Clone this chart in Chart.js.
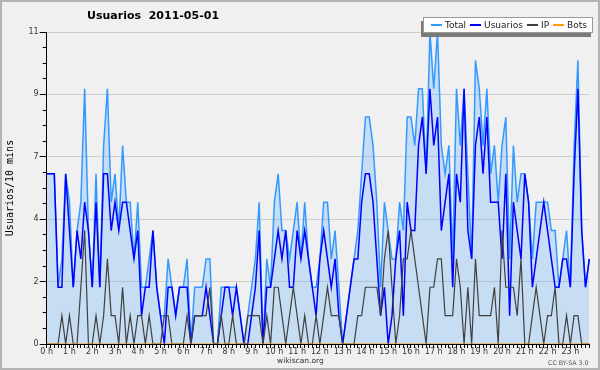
<!DOCTYPE html>
<html>
<head>
<meta charset="utf-8">
<script src="https://cdn.jsdelivr.net/npm/chart.js@4/dist/chart.umd.min.js"></script>
<style>
  body { margin: 0; background: #fff; }
  #wrap { position: relative; width: 600px; height: 370px; background: #f0f0f0; overflow: hidden;
          font-family: "DejaVu Sans", sans-serif; }
  #chart { position: absolute; left: 0; top: 0; }
  #frame { position: absolute; left: 0; top: 0; width: 600px; height: 370px; box-sizing: border-box;
           border: 2px solid #b4b4b4; pointer-events: none; }
  #title { position: absolute; left: 87px; top: 9px; font-size: 11px; font-weight: bold; line-height: 14px;
           white-space: pre; color: #000; }
  #legend { position: absolute; left: 423px; top: 17px; width: 170px; height: 16px; box-sizing: border-box;
            background: #fff; border: 1px solid #999; box-shadow: -2px 4px 0 #7a7a7a;
            display: flex; align-items: center; justify-content: flex-end; padding-right: 5px;
            font-size: 9px; color: #222; }
  #legend .item { display: flex; align-items: center; margin-left: 4px; }
  #legend .swatch { display: inline-block; width: 11px; height: 1.5px; margin-right: 3px; }
  #site { position: absolute; left: 277px; top: 356px; font-size: 7.5px; color: #333; }
  #lic { position: absolute; left: 548px; top: 359px; font-size: 6.3px; color: #555; }
</style>
</head>
<body>
<div id="wrap">
  <canvas id="chart" width="600" height="370"></canvas>
  <div id="title">Usuarios  2011-05-01</div>
  <div id="legend"></div>
  <div id="site">wikiscan.org</div>
  <div id="lic">CC BY-SA 3.0</div>
  <div id="frame"></div>
</div>
<script>
// 144 tramos de 10 minutos
const slots = [];
for (let h = 0; h < 24; h++) {
    for (let m = 0; m < 60; m += 10) slots.push(h + ':' + String(m).padStart(2, '0'));
}
const hourLabels = ['0 h', '1 h', '2 h', '3 h', '4 h', '5 h', '6 h', '7 h', '8 h', '9 h', '10 h', '11 h',
    '12 h', '13 h', '14 h', '15 h', '16 h', '17 h', '18 h', '19 h', '20 h', '21 h', '22 h', '23 h'];

const totalValues = [
    6, 6, 6, 2, 3, 6, 5, 2, 4, 5, 9, 4,
    2, 6, 2, 7, 9, 5, 6, 4, 7, 5, 5, 3,
    5, 2, 2, 3, 4, 2, 1, 1, 3, 2, 1, 2,
    2, 3, 0, 2, 2, 2, 3, 3, 0, 0, 2, 2,
    2, 2, 2, 1, 0, 1, 2, 3, 5, 0, 3, 2,
    5, 6, 4, 4, 3, 4, 5, 3, 5, 3, 2, 2,
    3, 5, 5, 3, 4, 2, 0, 1, 2, 3, 4, 6,
    8, 8, 7, 5, 2, 5, 4, 3, 3, 5, 4, 8,
    8, 7, 9, 9, 6, 11, 9, 11, 7, 6, 7, 3,
    9, 7, 9, 6, 3, 10, 9, 7, 9, 6, 7, 5,
    7, 8, 3, 7, 5, 6, 6, 5, 3, 5, 5, 5,
    5, 4, 4, 2, 3, 4, 2, 7, 10, 4, 2, 3
];
const userValues = [
    6, 6, 6, 2, 2, 6, 4, 2, 4, 3, 5, 4,
    2, 5, 2, 6, 6, 4, 5, 4, 5, 5, 4, 3,
    4, 1, 2, 2, 4, 2, 1, 0, 2, 2, 1, 2,
    2, 2, 0, 1, 1, 1, 2, 1, 0, 0, 1, 2,
    2, 1, 2, 1, 0, 0, 1, 2, 4, 0, 2, 2,
    3, 4, 3, 4, 2, 2, 4, 3, 4, 3, 2, 1,
    3, 4, 3, 2, 3, 1, 0, 1, 2, 3, 3, 5,
    6, 6, 5, 3, 1, 2, 0, 1, 3, 4, 1, 5,
    4, 4, 7, 8, 6, 9, 7, 8, 4, 5, 6, 2,
    6, 5, 9, 4, 3, 7, 8, 6, 8, 5, 5, 5,
    3, 6, 1, 5, 4, 3, 6, 5, 2, 3, 4, 5,
    4, 3, 2, 2, 3, 3, 2, 6, 9, 4, 2, 3
];
const ipValues = [
    0, 0, 0, 0, 1, 0, 1, 0, 0, 2, 4, 0,
    0, 1, 0, 1, 3, 1, 1, 0, 2, 0, 1, 0,
    1, 1, 0, 1, 0, 0, 0, 1, 1, 0, 0, 0,
    0, 1, 0, 1, 1, 1, 1, 2, 0, 0, 1, 0,
    0, 1, 0, 0, 0, 1, 1, 1, 1, 0, 1, 0,
    2, 2, 1, 0, 1, 2, 1, 0, 1, 0, 0, 1,
    0, 1, 2, 1, 1, 1, 0, 0, 0, 0, 1, 1,
    2, 2, 2, 2, 1, 3, 4, 2, 0, 1, 3, 3,
    4, 3, 2, 1, 0, 2, 2, 3, 3, 1, 1, 1,
    3, 2, 0, 2, 0, 3, 1, 1, 1, 1, 2, 0,
    4, 2, 2, 2, 1, 3, 0, 0, 1, 2, 1, 0,
    1, 1, 2, 0, 0, 1, 0, 1, 1, 0, 0, 0
];
const botValues = [
    0, 0, 0, 0, 0, 0, 0, 0, 0, 0, 0, 0,
    0, 0, 0, 0, 0, 0, 0, 0, 0, 0, 0, 0,
    0, 0, 0, 0, 0, 0, 0, 0, 0, 0, 0, 0,
    0, 0, 0, 0, 0, 0, 0, 0, 0, 0, 0, 0,
    0, 0, 0, 0, 0, 0, 0, 0, 0, 0, 0, 0,
    0, 0, 0, 0, 0, 0, 0, 0, 0, 0, 0, 0,
    0, 0, 0, 0, 0, 0, 0, 0, 0, 0, 0, 0,
    0, 0, 0, 0, 0, 0, 0, 0, 0, 0, 0, 0,
    0, 0, 0, 0, 0, 0, 0, 0, 0, 0, 0, 0,
    0, 0, 0, 0, 0, 0, 0, 0, 0, 0, 0, 0,
    0, 0, 0, 0, 0, 0, 0, 0, 0, 0, 0, 0,
    0, 0, 0, 0, 0, 0, 0, 0, 0, 0, 0, 0
];

const yTickValues = [0, 2.2, 4.4, 6.6, 8.8, 11];
const yTickLabels = ['0', '2', '4', '7', '9', '11'];
const yMinorTicks = [0.55, 1.1, 1.65, 2.75, 3.3, 3.85, 4.95, 5.5, 6.05, 7.15, 7.7, 8.25, 9.35, 9.9, 10.45];

const tickFont = { family: 'DejaVu Sans', size: 8 };

const chart = new Chart(document.getElementById('chart'), {
    type: 'line',
    data: {
        labels: slots,
        datasets: [
            { label: 'Total', data: totalValues, borderColor: '#3399ff', backgroundColor: 'rgba(51,153,255,0.22)',
              fill: 'origin', borderWidth: 1.5, order: 4 },
            { label: 'Usuarios', data: userValues, borderColor: '#0000ff', fill: false, borderWidth: 1.5, order: 3 },
            { label: 'IP', data: ipValues, borderColor: '#404040', fill: false, borderWidth: 1.2, order: 2 },
            { label: 'Bots', data: botValues, borderColor: '#ff9900', fill: false, borderWidth: 1, order: 1 }
        ]
    },
    options: {
        responsive: false,
        animation: false,
        devicePixelRatio: 1,
        elements: { point: { radius: 0 }, line: { tension: 0 } },
        layout: { padding: { top: 32, right: 10.7, left: 0, bottom: 0 } },
        plugins: { legend: { display: false }, tooltip: { enabled: false }, title: { display: false } },
        scales: {
            x: {
                type: 'category',
                offset: false,
                z: 1,
                grid: { drawOnChartArea: false, tickLength: 4, color: '#000' },
                border: { color: '#000' },
                ticks: {
                    autoSkip: false, maxRotation: 0, minRotation: 0, padding: -1,
                    font: tickFont, color: '#333',
                    callback: (v, i) => (i % 6 === 0 ? hourLabels[i / 6] : '')
                },
                afterFit: s => { s.height = 26; }
            },
            y: {
                type: 'linear', position: 'left', min: 0, max: 11, weight: 1,
                afterBuildTicks: s => { s.ticks = yTickValues.map(v => ({ value: v })); },
                ticks: { font: tickFont, color: '#333', padding: 1, callback: (v, i) => yTickLabels[i] },
                grid: { color: '#cdcdcd', tickColor: '#000', tickLength: 7 },
                border: { color: '#000' },
                title: { display: true, text: 'Usuarios/10 mins', color: '#000',
                         font: { family: 'DejaVu Sans Mono', size: 10 }, padding: { top: 4, bottom: 0 } },
                afterFit: s => { s.width = 46.7; }
            },
            yMinor: {
                type: 'linear', position: 'left', min: 0, max: 11, weight: 0,
                afterBuildTicks: s => { s.ticks = yMinorTicks.map(v => ({ value: v })); },
                ticks: { display: false },
                grid: { drawOnChartArea: false, tickColor: '#000', tickLength: 4 },
                border: { display: false },
                afterFit: s => { s.width = 0; }
            }
        }
    }
});

// leyenda en HTML a partir de los datasets
const legendBox = document.getElementById('legend');
chart.data.datasets.forEach(ds => {
    const item = document.createElement('span');
    item.className = 'item';
    item.innerHTML = `<span class="swatch" style="background:${ds.borderColor}"></span>${ds.label}`;
    legendBox.appendChild(item);
});
</script>
</body>
</html>
